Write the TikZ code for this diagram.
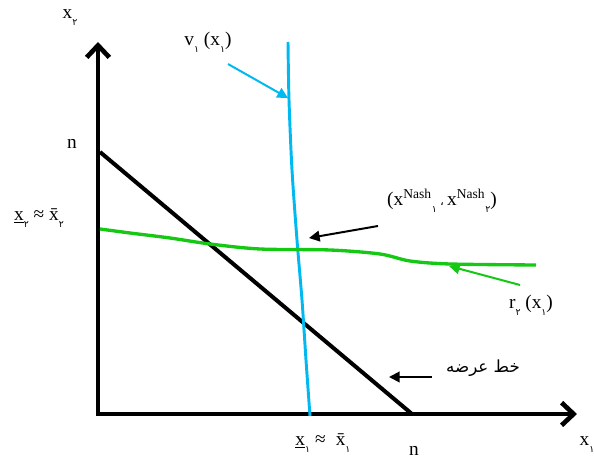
\documentclass[tikz,border=0pt]{standalone}
\usepackage{fontspec}
\setmainfont{Liberation Serif}
\newfontfamily\arabicfont[Script=Arabic]{DejaVu Sans}
\TeXXeTstate=1
\usetikzlibrary{arrows.meta}
\newcommand{\dsub}[1]{\raisebox{-0.8ex}{\arabicfont\fontsize{7}{7}\selectfont #1}}
\definecolor{lineblue}{RGB}{0,185,240}
\definecolor{linegreen}{RGB}{20,200,20}
\begin{document}
\begin{tikzpicture}[x=0.75pt,y=-0.75pt,
  axis/.style={line width=3.5pt,-{Straight Barb[length=9pt,width=17pt]}},
  lbl/.style={inner sep=1pt,font=\fontsize{14.5}{16}\selectfont},
  pointer/.style={line width=1.5pt,-{Triangle[length=8pt,width=8pt]}}]
\useasboundingbox (0,0) rectangle (594,459);
% axes
\coordinate (O) at (98,414);
\coordinate (Ytop) at (98,42);
\coordinate (Xend) at (577,414);
\draw[axis] (98,416) -- (Ytop);
\draw[axis] (96,414) -- (Xend);
% supply line
\coordinate (A) at (100,152);
\coordinate (B) at (412,414);
\draw[line width=3pt] (A) -- (B);
% blue curve
\draw[lineblue,line width=2.2pt] plot[smooth] coordinates {(288,42) (289,100) (292,170) (297,240) (302,300) (306,360) (310,416)};
% green curve
\draw[linegreen,line width=2.5pt] plot[smooth] coordinates {(100,229) (130,233) (170,238) (210,244) (260,249) (330,250) (380,254) (410,261) (450,264) (536,265)};
% labels
\node[lbl] (lx2) at (70,18) {x\dsub{۲}};
\node[lbl] (lv) at (208,42) {v\dsub{۱} (x\dsub{۱})};
\node[lbl] (ln1) at (72,144) {n};
\node[lbl] (lx2b) at (39,218) {\underline{x}\dsub{۲} ≈ \=x\dsub{۲}};
\node[lbl] (lnash) at (442,201) {(x\textsuperscript{Nash}\dsub{۱}\,{\arabicfont\fontsize{9}{9}\selectfont ،}\,x\textsuperscript{Nash}\dsub{۲})};
\node[lbl] (lr) at (531,305) {r\dsub{۲} (x\dsub{۱})};
\node[lbl] (ls) at (483,368) {\arabicfont\fontsize{12.5}{14}\selectfont\beginR خط عرضه\endR};
\node[lbl] (lx1b) at (323,443) {\underline{x}\dsub{۱} ≈\; \=x\dsub{۱}};
\node[lbl] (ln2) at (414,451) {n};
\node[lbl] (lx1) at (587,445) {x\dsub{۱}};
% pointers
\coordinate (bs) at (228,64);
\coordinate (be) at (288,98);
\draw[pointer,lineblue] (bs) -- (be);
\coordinate (ns) at (378,226);
\coordinate (ne) at (309,238);
\draw[pointer] (ns) -- (ne);
\coordinate (gs) at (520,285);
\coordinate (ge) at (449,266);
\draw[pointer,linegreen] (gs) -- (ge);
\coordinate (ss) at (432,377);
\coordinate (se) at (389,377);
\draw[pointer] (ss) -- (se);
\end{tikzpicture}
\end{document}
